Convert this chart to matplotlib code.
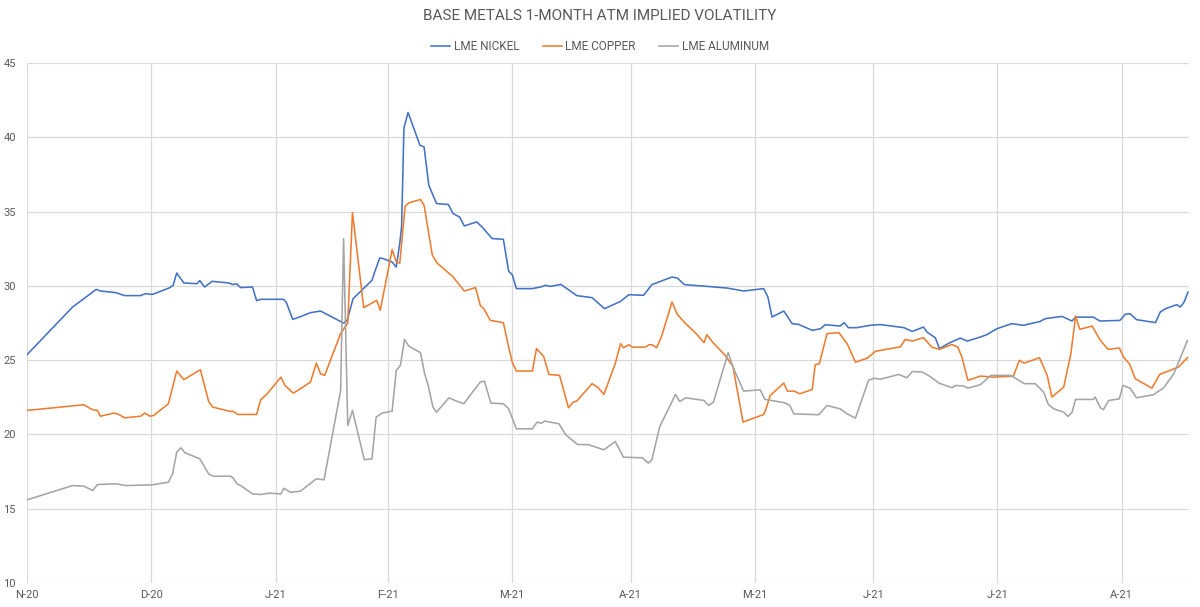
import matplotlib.pyplot as plt
import numpy as np

plt.rcParams['font.family'] = ['Roboto', 'DejaVu Sans']

# x positions are trading-day counts from the start of Nov 2020
month_labels = ["N-20", "D-20", "J-21", "F-21", "M-21", "A-21", "M-21", "J-21", "J-21", "A-21"]
month_pos = [0, 21, 42, 61, 82, 102, 123, 143, 164, 185]
x_end = 196.4

nickel_x = [0, 7.7, 9.6, 11.7, 12.4, 15, 16.5, 19.2, 20, 21.2, 24, 24.7, 25.3, 26.5, 28.7, 29.2, 30,
            31.3, 34.1, 34.8, 35.4, 36.1, 38.1, 38.8, 39.5, 43.3, 43.8, 44.9, 46.2, 47.9, 49.6, 53.5,
            54.1, 55.1, 58.3, 58.7, 59.6, 60.2, 61.7, 62.4, 63, 63.3, 63.7, 64.4, 66.4, 67.1, 67.9,
            69.2, 71.2, 72, 73.1, 73.9, 76, 76.9, 78.6, 80.5, 81.4, 82, 82.7, 85.4, 86.8, 87.6, 88.5,
            90.2, 92.9, 95.5, 97.6, 100.3, 101.7, 104.2, 105.6, 109, 109.9, 111.1, 114.9, 118.3,
            121.1, 124.5, 125.2, 125.9, 127.9, 129.3, 130.4, 132.7, 134.1, 134.9, 137.4, 138.1,
            138.8, 140.2, 142.5, 144.2, 148.2, 149.6, 151.5, 152.1, 153.5, 154.2, 155.8, 157.7,
            158.9, 161.1, 162.2, 163.9, 166.4, 168.4, 171.2, 172.1, 174.9, 176.6, 177.2, 180.2,
            181.3, 184.7, 185.6, 186.4, 187.5, 190.7, 191.5, 192.4, 194.3, 194.9, 195.5, 196.2]
nickel = [25.37, 28.58, 29.14, 29.77, 29.66, 29.55, 29.35, 29.35, 29.48, 29.43, 29.86, 30.04, 30.87,
          30.2, 30.15, 30.36, 29.93, 30.31, 30.2, 30.09, 30.15, 29.89, 29.93, 29.01, 29.1, 29.1,
          28.92, 27.75, 27.93, 28.2, 28.31, 27.5, 27.68, 29.14, 30.38, 30.87, 31.88, 31.84, 31.61,
          31.27, 32.89, 33.97, 40.64, 41.68, 39.47, 39.36, 36.78, 35.55, 35.48, 34.87, 34.64,
          34.04, 34.31, 33.97, 33.19, 33.14, 30.98, 30.76, 29.82, 29.82, 29.93, 30.04, 29.97,
          30.11, 29.35, 29.21, 28.47, 28.96, 29.41, 29.37, 30.09, 30.6, 30.53, 30.09, 29.97,
          29.86, 29.66, 29.82, 29.26, 27.91, 28.31, 27.46, 27.41, 27.01, 27.12, 27.39, 27.3,
          27.53, 27.19, 27.19, 27.35, 27.4, 27.19, 26.94, 27.23, 26.89, 26.51, 25.78, 26.15,
          26.49, 26.29, 26.56, 26.72, 27.12, 27.46, 27.35, 27.61, 27.8, 27.95, 27.64, 27.9, 27.9,
          27.64, 27.68, 28.09, 28.13, 27.73, 27.53, 28.24, 28.47, 28.74, 28.58, 28.88, 29.59]

copper_x = [0, 9.6, 11, 11.9, 12.4, 14.7, 15.5, 16.5, 19.2, 19.9, 20.8, 21.4, 23.9, 25.3, 26.5,
            29.3, 30.7, 31.4, 34.4, 34.8, 35.6, 38.8, 39.5, 40.6, 42.9, 43.6, 45, 46.2, 47.9, 48.9,
            49.6, 50.3, 53, 54.2, 55, 56.9, 59.1, 59.7, 61.7, 62.4, 63, 63.9, 64.5, 66.5, 67.1,
            68.5, 69.3, 71.9, 73.9, 75.8, 76.6, 77.2, 78.3, 80.5, 81.4, 82, 82.7, 85.4, 86.1, 87.3,
            88.2, 90, 91.5, 92.3, 92.9, 95.5, 96.4, 97.5, 99.4, 100.3, 100.8, 101.7, 102.3, 104.5,
            105.1, 105.6, 106.4, 107.2, 109, 109.9, 111.3, 113, 114.4, 114.9, 116, 118, 119.3,
            121, 124.5, 124.8, 125.6, 127.9, 128.5, 129.6, 130.6, 132.7, 133.2, 133.9, 135.2,
            137.2, 138.6, 140, 142, 143.4, 147.6, 148.4, 149.6, 151.5, 152.9, 154.2, 156.3, 157.3,
            158, 159, 161.1, 163.3, 166.7, 167.7, 168.5, 171.1, 172.4, 173.2, 175.2, 176.4, 177.2,
            177.9, 180, 181.4, 182.7, 184.6, 185.3, 186.3, 187.3, 190.1, 191.4, 194.6, 196.1]
copper = [21.62, 22.0, 21.68, 21.62, 21.23, 21.44, 21.35, 21.12, 21.23, 21.44, 21.23, 21.28, 22.07,
          24.27, 23.69, 24.36, 22.22, 21.84, 21.55, 21.57, 21.35, 21.35, 22.34, 22.74, 23.86,
          23.3, 22.78, 23.08, 23.53, 24.81, 24.09, 23.98, 26.79, 27.5, 34.94, 28.54, 29.03,
          28.36, 32.45, 31.61, 31.54, 35.36, 35.59, 35.82, 35.43, 32.06, 31.54, 30.65, 29.66,
          29.89, 28.69, 28.47, 27.68, 27.53, 25.88, 24.87, 24.27, 24.27, 25.78, 25.26, 24.04,
          23.98, 21.8, 22.18, 22.25, 23.42, 23.19, 22.7, 24.76, 26.11, 25.84, 26.04, 25.88,
          25.88, 26.04, 26.04, 25.84, 26.56, 28.92, 28.09, 27.46, 26.83, 26.18, 26.72, 26.15,
          25.32, 24.58, 20.83, 21.35, 21.62, 22.63, 23.46, 22.92, 22.92, 22.74, 23.03, 24.7,
          24.76, 26.79, 26.86, 26.11, 24.87, 25.14, 25.6, 25.9, 26.4, 26.29, 26.52, 25.88, 25.73,
          26.06, 25.88, 25.21, 23.64, 23.93, 23.86, 23.93, 24.99, 24.8, 25.17, 23.98, 22.52,
          23.19, 25.44, 27.97, 27.08, 27.3, 26.33, 25.73, 25.82, 25.21, 24.76, 23.75, 23.12,
          24.04, 24.54, 25.17]

aluminum_x = [0, 7.7, 9.6, 11.1, 11.9, 15, 16.7, 21.2, 23.9, 24.6, 25.3, 26, 26.7, 29.2, 30.7,
              31.5, 34.4, 34.8, 35.5, 36.1, 38.1, 39.5, 40.9, 42.9, 43.4, 44.5, 46.2, 48.9, 50.2,
              53, 53.5, 54.2, 55, 57, 58.3, 59, 60, 61.7, 62.4, 63.1, 63.8, 64.5, 66.5, 67.2, 67.8,
              68.6, 69.2, 71.3, 72.6, 73.8, 76.6, 77.3, 78.4, 80.5, 81.4, 82.7, 85.4, 86.2, 86.9,
              87.5, 89.9, 91, 93, 94.9, 96.1, 97.5, 99.4, 100.8, 104, 105, 105.6, 106.9, 109.6,
              110.3, 111.3, 114.4, 115.2, 116, 118.5, 119.3, 121.1, 123.9, 124.7, 128, 128.9,
              129.6, 133.8, 135.2, 137.4, 138.6, 140, 142.2, 143.1, 144.2, 147.3, 148.7, 149.6,
              151.3, 152.6, 154.1, 156.3, 156.9, 158.3, 159, 161.1, 162.9, 166.2, 167.2, 168.5,
              170.4, 171.8, 172.6, 173.5, 175.2, 175.9, 176.6, 177.2, 180.2, 180.5, 181.4, 181.9,
              182.8, 184.6, 185.2, 186.4, 187.5, 190.4, 192.1, 193.8, 195.2, 196.1]
aluminum = [15.6, 16.56, 16.52, 16.23, 16.63, 16.68, 16.56, 16.61, 16.79, 17.35, 18.81, 19.1,
            18.77, 18.36, 17.35, 17.19, 17.19, 17.08, 16.68, 16.56, 16.0, 15.96, 16.05, 16.0,
            16.38, 16.11, 16.18, 17.02, 16.95, 22.97, 33.19, 20.61, 21.62, 18.3, 18.36, 21.17,
            21.44, 21.57, 24.31, 24.65, 26.4, 25.95, 25.51, 24.09, 23.3, 21.84, 21.5, 22.47,
            22.24, 22.07, 23.53, 23.59, 22.11, 22.07, 21.73, 20.38, 20.38, 20.83, 20.76, 20.9,
            20.72, 20.0, 19.33, 19.31, 19.15, 18.97, 19.53, 18.47, 18.43, 18.07, 18.3, 20.5,
            22.7, 22.22, 22.47, 22.29, 21.95, 22.18, 25.51, 24.54, 22.92, 23.01, 22.36, 22.14,
            21.95, 21.39, 21.33, 21.95, 21.73, 21.39, 21.1, 23.64, 23.79, 23.72, 24.04, 23.82,
            24.24, 24.2, 23.91, 23.46, 23.15, 23.3, 23.26, 23.12, 23.35, 23.98, 23.98, 23.75,
            23.42, 23.42, 22.85, 22.02, 21.73, 21.5, 21.21, 21.5, 22.36, 22.36, 22.52, 21.8,
            21.67, 22.29, 22.4, 23.3, 23.12, 22.47, 22.68, 23.15, 24.09, 25.44, 26.33]

text_color = "#595959"
grid_color = "#D9D9D9"

fig = plt.figure(figsize=(12, 6.07), dpi=100)
ax = fig.add_axes([0.0225, 0.0395, 0.9685, 0.8565])

ax.plot(nickel_x, nickel, color="#4472C4", lw=1.15, label="LME NICKEL")
ax.plot(copper_x, copper, color="#ED7D31", lw=1.15, label="LME COPPER")
ax.plot(aluminum_x, aluminum, color="#A5A5A5", lw=1.15, label="LME ALUMINUM")

ax.set_xlim(0, x_end)
ax.set_ylim(10, 45)
ax.set_yticks(np.arange(10, 46, 5))
ax.set_xticks(month_pos)
ax.set_xticklabels(month_labels)
ax.grid(True, color=grid_color, lw=0.9)
ax.set_axisbelow(True)
for s in ax.spines.values():
    s.set_visible(False)
ax.tick_params(length=0, labelsize=8, colors=text_color, pad=5)
ax.tick_params(axis='y', pad=8)

fig.suptitle("BASE METALS 1-MONTH ATM IMPLIED VOLATILITY", y=0.985, fontsize=11,
             color=text_color)
fig.legend(loc="upper center", bbox_to_anchor=(0.5, 0.952), ncol=3, frameon=False,
           fontsize=8.5, labelcolor=text_color, handlelength=1.6, handletextpad=0.3,
           columnspacing=2.0)

fig.savefig("out.png", dpi=100)
